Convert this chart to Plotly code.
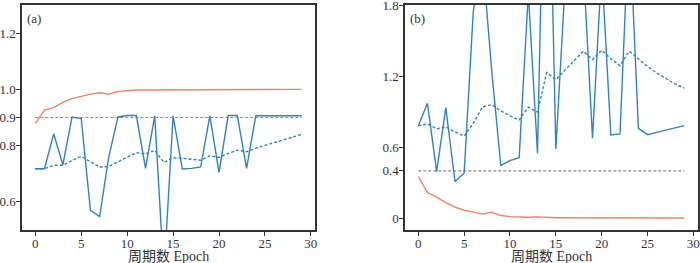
import plotly.graph_objects as go
from plotly.subplots import make_subplots

epochs = list(range(30))

# Panel (a)
a_train = [0.878, 0.926, 0.935, 0.954, 0.967, 0.976, 0.983, 0.988, 0.983, 0.993,
           0.996, 0.998, 0.998, 0.998, 0.999, 0.999, 0.999, 0.999, 0.999, 1.0,
           1.0, 1.0, 1.0, 1.0, 1.0, 1.0, 1.0, 1.0, 1.0, 1.0]
a_val = [0.718, 0.718, 0.842, 0.732, 0.902, 0.896, 0.570, 0.548, 0.760, 0.902,
         0.907, 0.907, 0.719, 0.906, 0.34, 0.906, 0.717, 0.719, 0.724, 0.906,
         0.705, 0.907, 0.907, 0.719, 0.906, 0.906, 0.907, 0.907, 0.906, 0.906]
a_smooth = [0.718, 0.718, 0.730, 0.730, 0.747, 0.762, 0.743, 0.724, 0.726, 0.742,
            0.760, 0.775, 0.770, 0.783, 0.740, 0.757, 0.755, 0.751, 0.748, 0.764,
            0.758, 0.772, 0.784, 0.778, 0.791, 0.801, 0.810, 0.819, 0.830, 0.840]
a_ref = 0.9

# Panel (b)
b_train = [0.351, 0.216, 0.177, 0.131, 0.093, 0.067, 0.051, 0.034, 0.050, 0.022,
           0.013, 0.008, 0.008, 0.011, 0.005, 0.004, 0.004, 0.004, 0.004, 0.003,
           0.003, 0.002, 0.002, 0.002, 0.002, 0.002, 0.001, 0.001, 0.001, 0.001]
b_val = [0.779, 0.970, 0.393, 0.933, 0.309, 0.380, 1.75, 2.2, 1.25, 0.445,
         0.486, 0.511, 1.9, 0.548, 4.15, 0.584, 1.96, 2.02, 2.13, 0.675,
         2.12, 0.703, 0.711, 2.55, 0.759, 0.705, 0.724, 0.743, 0.762, 0.781]
b_smooth = [0.779, 0.797, 0.754, 0.771, 0.729, 0.693, 0.80, 0.94, 0.958, 0.906,
            0.864, 0.829, 0.937, 0.896, 1.23, 1.17, 1.25, 1.33, 1.41, 1.34,
            1.418, 1.346, 1.288, 1.41, 1.345, 1.281, 1.225, 1.176, 1.134, 1.098]
b_ref = 0.4

a_ticks = [0.6, 0.8, 0.9, 1.0, 1.2]
a_ticktext = ["0.6", "0.8", "0.9", "1.0", "1.2"]
b_ticks = [0, 0.4, 0.6, 1.2, 1.8]
b_ticktext = ["0", "0.4", "0.6", "1.2", "1.8"]
x_ticks = [0, 5, 10, 15, 20, 25, 30]
x_title = "周期数 Epoch"
panel_labels = ["(a)", "(b)"]

BLUE = "#2f83c3"
ORANGE = "#f4815f"
GRAY = "#8a8a8a"
TXT = "#333333"
FONT = "Liberation Serif"
FONT_CJK = "Liberation Serif, Noto Sans CJK SC"

W, H = 700, 263
fig = make_subplots(rows=1, cols=2)

def add_panel(col, train, val, smooth, ref):
    fig.add_trace(go.Scatter(x=epochs, y=[ref] * len(epochs), mode="lines",
                             line=dict(color=GRAY, width=1.2, dash="3px,2px"),
                             showlegend=False), row=1, col=col)
    fig.add_trace(go.Scatter(x=epochs, y=train, mode="lines",
                             line=dict(color=ORANGE, width=1.4), showlegend=False),
                  row=1, col=col)
    fig.add_trace(go.Scatter(x=epochs, y=val, mode="lines",
                             line=dict(color=BLUE, width=1.4), showlegend=False),
                  row=1, col=col)
    fig.add_trace(go.Scatter(x=epochs, y=smooth, mode="lines",
                             line=dict(color=BLUE, width=1.4, dash="3px,2px"),
                             showlegend=False), row=1, col=col)

add_panel(1, a_train, a_val, a_smooth, a_ref)
add_panel(2, b_train, b_val, b_smooth, b_ref)

ydom = [(H - 230) / H, (H - 5) / H]
axis_common = dict(showline=True, mirror=True, linecolor=TXT, linewidth=1.5,
                   ticks="outside", ticklen=4, tickwidth=1, tickcolor=TXT,
                   showgrid=False, zeroline=False, ticklabeloverflow="allow",
                   automargin=False,
                   tickfont=dict(family=FONT, size=13, color=TXT))

xdom_a = [22 / W, 315 / W]
xdom_b = [405 / W, 697.5 / W]

fig.update_layout(
    width=W, height=H,
    margin=dict(l=0, r=0, t=0, b=0, pad=0),
    paper_bgcolor="white", plot_bgcolor="white",
    font=dict(family=FONT_CJK, color=TXT),
    xaxis=dict(domain=xdom_a, range=[-1.45, 30.45], tickvals=x_ticks,
               ticklabelstandoff=-3, **axis_common),
    xaxis2=dict(domain=xdom_b, range=[-1.45, 30.45], tickvals=x_ticks,
                ticklabelstandoff=-3, **axis_common),
    yaxis=dict(domain=ydom, range=[0.5, 1.3], tickvals=a_ticks, ticktext=a_ticktext,
               ticklabelstandoff=-2, **axis_common),
    yaxis2=dict(domain=ydom, range=[-0.1, 1.8], tickvals=b_ticks, ticktext=b_ticktext,
                ticklabelstandoff=-2, **axis_common),
    annotations=[
        dict(text=panel_labels[0], xref="paper", yref="paper", x=25 / W, y=(H - 9) / H,
             xanchor="left", yanchor="top", showarrow=False,
             font=dict(family=FONT, size=13, color=TXT)),
        dict(text=panel_labels[1], xref="paper", yref="paper", x=408 / W, y=(H - 9) / H,
             xanchor="left", yanchor="top", showarrow=False,
             font=dict(family=FONT, size=13, color=TXT)),
        dict(text=x_title, xref="paper", yref="paper", x=sum(xdom_a) / 2, y=(H - 256) / H,
             xanchor="center", yanchor="middle", showarrow=False,
             font=dict(family=FONT_CJK, size=14, color=TXT)),
        dict(text=x_title, xref="paper", yref="paper", x=sum(xdom_b) / 2, y=(H - 256) / H,
             xanchor="center", yanchor="middle", showarrow=False,
             font=dict(family=FONT_CJK, size=14, color=TXT)),
    ],
)

fig.write_html("out.html",
               config={"displayModeBar": False},
               post_script="document.body.style.margin='0';document.body.style.overflow='hidden';")
